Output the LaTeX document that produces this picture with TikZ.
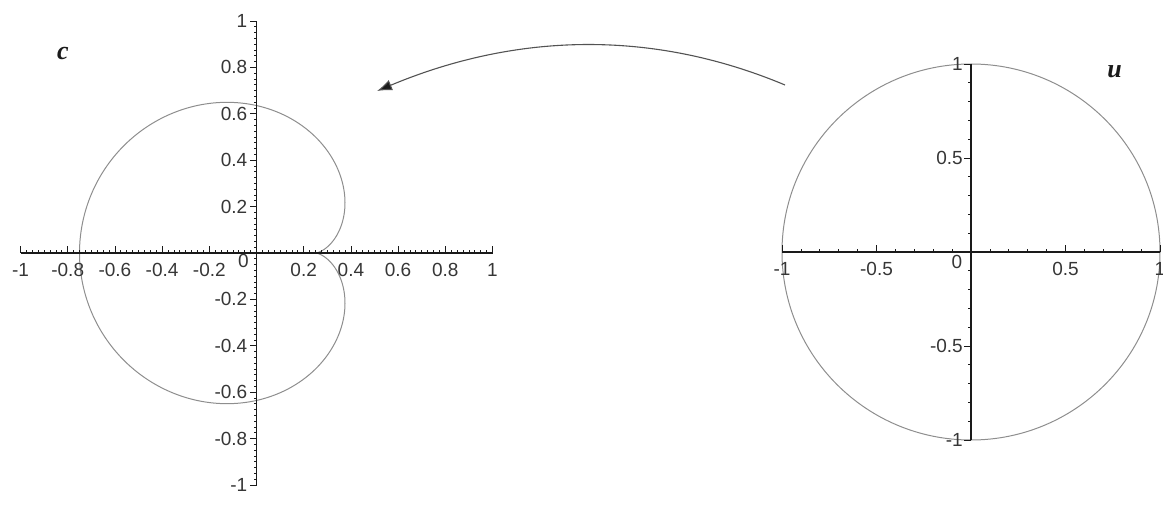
\documentclass[tikz,border=0pt]{standalone}
\usepackage{fontspec}
\setmainfont{Liberation Serif}
\setsansfont{Liberation Sans}
\usetikzlibrary{arrows.meta}
\definecolor{ink}{HTML}{1A1A1A}
\definecolor{labelink}{HTML}{363636}
\definecolor{curve}{HTML}{8E8E8E}

\begin{document}
\begin{tikzpicture}[x=1pt,y=1pt,
  axis/.style={draw=ink,line width=1.1pt},
  tickmark/.style={draw=ink,line width=0.8pt},
  graph/.style={draw=curve,line width=1pt},
  ticklabel/.style={font=\sffamily\fontsize{19}{19}\selectfont,text=labelink,inner sep=0pt},
  varname/.style={font=\itshape\bfseries\fontsize{26}{26}\selectfont,text=ink,inner sep=0pt},
  maparrow/.style={-{Latex[length=15pt,width=11pt,fill=ink]},draw=ink!75,line width=1.1pt}
]
\useasboundingbox (0,0) rectangle (1163,504);
% Image of the disc: the main cardioid c = u/2 - u^2/4.
\begin{scope}[shift={(256.5,251)},x=236pt,y=232pt]
  \draw[graph] plot[domain=0:360,samples=361,variable=\t]
    ({cos(\t)/2-cos(2*\t)/4},{sin(\t)/2-sin(2*\t)/4});
  \draw[axis] (-1,0) -- (1,0);
  \draw[axis] (0,-1) -- (0,1);
  \foreach \k in {-40,...,40} {
    \draw[tickmark] (\k/40,0) -- ++(0,3pt);
    \draw[tickmark] (0,\k/40) -- ++(-3pt,0);
  }
  \foreach \k in {-5,...,5} {
    \draw[tickmark] (\k/5,0) -- ++(0,7pt);
    \draw[tickmark] (0,\k/5) -- ++(-7pt,0);
  }
  \foreach \v [count=\k] in {-1,-0.8,-0.6,-0.4,-0.2,0.2,0.4,0.6,0.8,1} {
    \node[ticklabel] (cx\k) at ([yshift=-17pt]\v,0) {\v};
    \node[ticklabel,anchor=east] (cy\k) at ([xshift=-9pt]0,\v) {\v};
  }
  \node[ticklabel] (c0) at ([xshift=-13pt,yshift=-8pt]0,0) {0};
  \node[varname] (cname) at (-0.82,0.86) {c};
\end{scope}
% The unit disc in the u-plane.
\begin{scope}[shift={(971,252)},x=189pt,y=188pt]
  \draw[graph] (0,0) ellipse [x radius=1,y radius=1];
  \draw[axis] (-1,0) -- (1,0);
  \draw[axis] (0,-1) -- (0,1);
  \foreach \k in {-10,...,10} {
    \draw[tickmark] (\k/10,0) -- ++(0,3pt);
    \draw[tickmark] (0,\k/10) -- ++(-3pt,0);
  }
  \foreach \k in {-2,...,2} {
    \draw[tickmark] (\k/2,0) -- ++(0,7pt);
    \draw[tickmark] (0,\k/2) -- ++(-7pt,0);
  }
  \foreach \v [count=\k] in {-1,-0.5,0.5,1} {
    \node[ticklabel] (ux\k) at ([yshift=-17pt]\v,0) {\v};
    \node[ticklabel,anchor=east] (uy\k) at ([xshift=-8pt]0,\v) {\v};
  }
  \node[ticklabel] (u0) at ([xshift=-14pt,yshift=-10pt]0,0) {0};
  \node[varname] (uname) at (0.76,0.96) {u};
\end{scope}
% The map from the u-plane to the c-plane.
\coordinate (mapfrom) at (785,419);
\coordinate (mapto) at (377,413);
\draw[maparrow] (mapfrom) .. controls (649,476) and (513,470) .. (mapto);
\end{tikzpicture}
\end{document}
